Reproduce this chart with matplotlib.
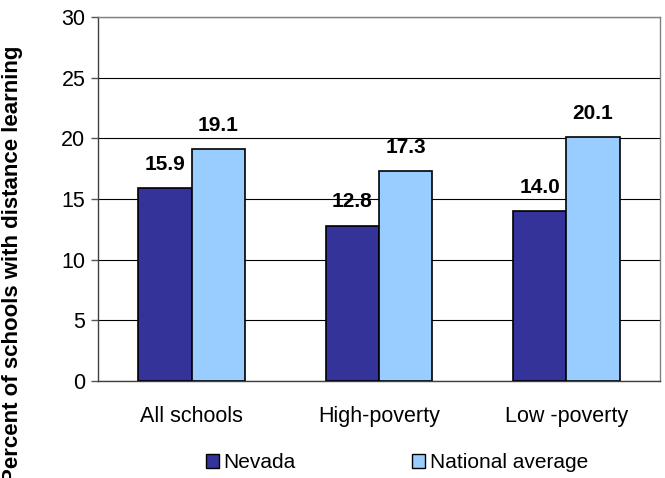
import matplotlib

matplotlib.use("Agg")
import matplotlib.pyplot as plt  # noqa: E402
import numpy as np  # noqa: E402
from matplotlib.patches import Patch  # noqa: E402

categories = ["All schools", "High-poverty", "Low -poverty"]
nevada = [15.9, 12.8, 14.0]
national = [19.1, 17.3, 20.1]
series_names = ["Nevada", "National average"]

plt.rcParams["font.family"] = ["Liberation Sans", "DejaVu Sans"]

fig = plt.figure(figsize=(6.65, 4.78), dpi=100)
ax = fig.add_axes([98 / 665, 1 - 381 / 478, 562 / 665, 364 / 478])

x = np.arange(len(categories))
w = 0.285
dark, light = "#333399", "#99ccff"
b1 = ax.bar(x - w / 2, nevada, w, color=dark, edgecolor="black", linewidth=1.2, zorder=3)
b2 = ax.bar(x + w / 2, national, w, color=light, edgecolor="black", linewidth=1.2, zorder=3)

for bars, vals in ((b1, nevada), (b2, national)):
    for r, v in zip(bars, vals):
        ax.text(r.get_x() + r.get_width() / 2, v + 1.5, f"{v:.1f}", ha="center", va="baseline",
                fontsize=15, fontweight="bold")

ax.set_xlim(-0.5, 2.5)
ax.set_ylim(0, 30)
ax.set_yticks(range(0, 31, 5))
ax.yaxis.grid(True, color="black", linewidth=0.8, zorder=0)
ax.set_xticks(x)
ax.set_xticklabels(categories, fontsize=15.5)
ax.tick_params(axis="x", length=0, pad=18)
ax.tick_params(axis="y", labelsize=15.5, length=5, width=1, color="#555555", pad=4)
for s in ax.spines.values():
    s.set_color("#808080")
    s.set_linewidth(1)
ax.spines["left"].set_color("#404040")
ax.spines["bottom"].set_color("#404040")

fig.text(13 / 665, 1 - 264 / 478, "Percent of schools with distance learning", rotation=90,
         ha="center", va="center", fontsize=16, fontweight="bold")

handles = [Patch(facecolor=dark, edgecolor="black"), Patch(facecolor=light, edgecolor="black")]
fig.legend(handles, series_names, loc="center", bbox_to_anchor=(397 / 665, 1 - 463 / 478), ncol=2,
           frameon=False, fontsize=15, handlelength=0.63, handleheight=0.63, handletextpad=0.2,
           columnspacing=5.6, borderpad=0)

fig.savefig("out.png", dpi=100)
